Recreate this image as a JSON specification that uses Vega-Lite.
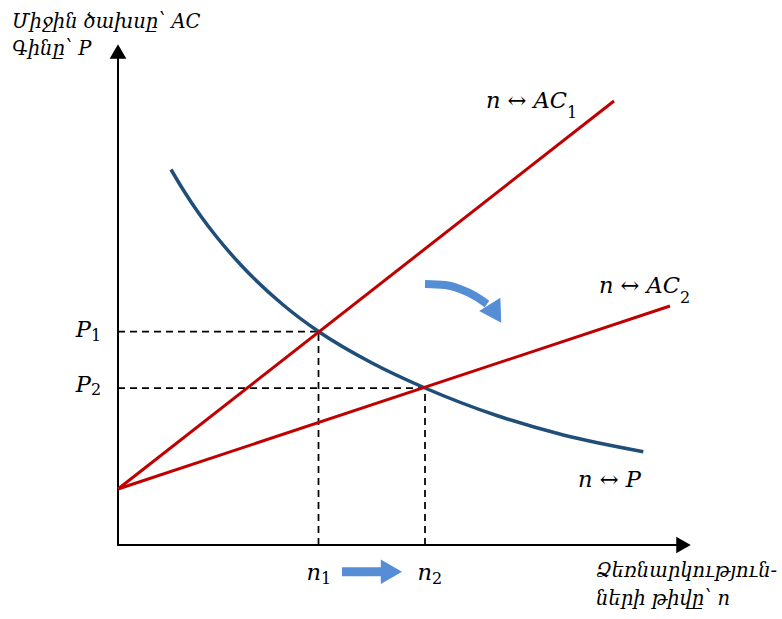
{
  "$schema": "https://vega.github.io/schema/vega-lite/v6.json",
  "width": 782,
  "height": 619,
  "autosize": {"type": "fit", "contains": "padding"},
  "padding": 0,
  "background": "white",
  "config": {"view": {"stroke": null}},
  "datasets": {
    "axes": [
      {"x": 0, "y": -0.1, "x2": 0, "y2": 49.2},
      {"x": -0.1, "y": 0, "x2": 56.5, "y2": 0}
    ],
    "yarrow": [{"x": 0, "y": 49.35}],
    "xarrow": [{"x": 56.55, "y": 0}],
    "dashes": [
      {"x": 0, "y": 21.35, "x2": 20.05, "y2": 21.35},
      {"x": 20.05, "y": 0, "x2": 20.05, "y2": 21.35},
      {"x": 0, "y": 15.7, "x2": 30.7, "y2": 15.7},
      {"x": 30.7, "y": 0, "x2": 30.7, "y2": 15.7}
    ],
    "redlines": [
      {"series": "AC1", "n": 0, "v": 5.6},
      {"series": "AC1", "n": 49.6, "v": 44.4},
      {"series": "AC2", "n": 0, "v": 5.6},
      {"series": "AC2", "n": 55.2, "v": 23.9}
    ],
    "demand": [
      {"n": 5.3, "v": 37.55},
      {"n": 6.53, "v": 35.5},
      {"n": 8.2, "v": 33.0},
      {"n": 9.87, "v": 30.8},
      {"n": 12.2, "v": 28.1},
      {"n": 16.53, "v": 24.0},
      {"n": 20.05, "v": 21.35},
      {"n": 25.4, "v": 18.2},
      {"n": 30.7, "v": 15.7},
      {"n": 37.87, "v": 12.95},
      {"n": 44.53, "v": 11.0},
      {"n": 52.53, "v": 9.33}
    ],
    "curvedShaft": [
      {"n": 30.7, "v": 26.1},
      {"n": 32.7, "v": 26.0},
      {"n": 34.2, "v": 25.6},
      {"n": 35.7, "v": 24.9},
      {"n": 36.9, "v": 24.1}
    ],
    "curvedHead": [{"n": 37.75, "v": 23.15}],
    "straightShaft": [{"x": 22.4, "y": -2.67, "x2": 26.5, "y2": -2.67}],
    "straightHead": [{"n": 27.34, "v": -2.67}],
    "mainLabels": [
      {"text": "n ↔ AC", "x": 44.9, "y": 43.7},
      {"text": "n ↔ AC", "x": 56.2, "y": 25.17},
      {"text": "P", "x": -2.7, "y": 20.8},
      {"text": "P", "x": -2.7, "y": 15.33},
      {"text": "n", "x": 20.3, "y": -3.5},
      {"text": "n", "x": 31.4, "y": -3.5}
    ],
    "subLabels": [
      {"text": "1", "x": 44.9, "y": 42.75},
      {"text": "2", "x": 56.2, "y": 24.25},
      {"text": "1", "x": -2.7, "y": 20.4},
      {"text": "2", "x": -2.7, "y": 15.0},
      {"text": "1", "x": 20.3, "y": -3.9},
      {"text": "2", "x": 31.4, "y": -3.9}
    ],
    "leftLabels": [
      {"text": "n ↔ P", "x": 46.0, "y": 5.83}
    ],
    "axisTitles": [
      {"text": "Միջին ծախսը՝ AC", "x": -10.6, "y": 51.75},
      {"text": "Գինը՝ P", "x": -10.6, "y": 49.0},
      {"text": "Ձեռնարկություն-", "x": 47.8, "y": -3.17},
      {"text": "ների թիվը՝ n", "x": 47.8, "y": -6.0}
    ]
  },
  "layer": [
    {
      "data": {"name": "dashes"},
      "mark": {"type": "rule", "color": "black", "strokeWidth": 1.75, "strokeDash": [7, 5]},
      "encoding": {
        "x": {"field": "x", "type": "quantitative", "scale": {"domain": [-11.8, 66.4], "nice": false, "zero": false}, "axis": null},
        "y": {"field": "y", "type": "quantitative", "scale": {"domain": [-7.4, 54.5], "nice": false, "zero": false}, "axis": null},
        "x2": {"field": "x2"},
        "y2": {"field": "y2"}
      }
    },
    {
      "data": {"name": "axes"},
      "mark": {"type": "rule", "color": "black", "strokeWidth": 2},
      "encoding": {
        "x": {"field": "x", "type": "quantitative", "scale": {"domain": [-11.8, 66.4], "nice": false, "zero": false}, "axis": null},
        "y": {"field": "y", "type": "quantitative", "scale": {"domain": [-7.4, 54.5], "nice": false, "zero": false}, "axis": null},
        "x2": {"field": "x2"},
        "y2": {"field": "y2"}
      }
    },
    {
      "data": {"name": "yarrow"},
      "mark": {"type": "point", "shape": "triangle-up", "filled": true, "color": "black", "size": 280, "opacity": 1},
      "encoding": {
        "x": {"field": "x", "type": "quantitative", "scale": {"domain": [-11.8, 66.4], "nice": false, "zero": false}, "axis": null},
        "y": {"field": "y", "type": "quantitative", "scale": {"domain": [-7.4, 54.5], "nice": false, "zero": false}, "axis": null}
      }
    },
    {
      "data": {"name": "xarrow"},
      "mark": {"type": "point", "shape": "triangle-right", "filled": true, "color": "black", "size": 280, "opacity": 1},
      "encoding": {
        "x": {"field": "x", "type": "quantitative", "scale": {"domain": [-11.8, 66.4], "nice": false, "zero": false}, "axis": null},
        "y": {"field": "y", "type": "quantitative", "scale": {"domain": [-7.4, 54.5], "nice": false, "zero": false}, "axis": null}
      }
    },
    {
      "data": {"name": "demand"},
      "mark": {"type": "line", "color": "#1F4E79", "strokeWidth": 3.5, "interpolate": "monotone"},
      "encoding": {
        "x": {"field": "n", "type": "quantitative", "scale": {"domain": [-11.8, 66.4], "nice": false, "zero": false}, "axis": null},
        "y": {"field": "v", "type": "quantitative", "scale": {"domain": [-7.4, 54.5], "nice": false, "zero": false}, "axis": null}
      }
    },
    {
      "data": {"name": "redlines"},
      "mark": {"type": "line", "color": "#C00000", "strokeWidth": 3},
      "encoding": {
        "x": {"field": "n", "type": "quantitative", "scale": {"domain": [-11.8, 66.4], "nice": false, "zero": false}, "axis": null},
        "y": {"field": "v", "type": "quantitative", "scale": {"domain": [-7.4, 54.5], "nice": false, "zero": false}, "axis": null},
        "detail": {"field": "series"}
      }
    },
    {
      "data": {"name": "curvedShaft"},
      "mark": {"type": "line", "color": "#558ED5", "strokeWidth": 8, "interpolate": "monotone", "strokeCap": "butt"},
      "encoding": {
        "x": {"field": "n", "type": "quantitative", "scale": {"domain": [-11.8, 66.4], "nice": false, "zero": false}, "axis": null},
        "y": {"field": "v", "type": "quantitative", "scale": {"domain": [-7.4, 54.5], "nice": false, "zero": false}, "axis": null}
      }
    },
    {
      "data": {"name": "curvedHead"},
      "mark": {"type": "point", "shape": "triangle-right", "filled": true, "color": "#558ED5", "size": 625, "angle": 58, "opacity": 1},
      "encoding": {
        "x": {"field": "n", "type": "quantitative", "scale": {"domain": [-11.8, 66.4], "nice": false, "zero": false}, "axis": null},
        "y": {"field": "v", "type": "quantitative", "scale": {"domain": [-7.4, 54.5], "nice": false, "zero": false}, "axis": null}
      }
    },
    {
      "data": {"name": "straightShaft"},
      "mark": {"type": "rule", "color": "#558ED5", "strokeWidth": 9},
      "encoding": {
        "x": {"field": "x", "type": "quantitative", "scale": {"domain": [-11.8, 66.4], "nice": false, "zero": false}, "axis": null},
        "y": {"field": "y", "type": "quantitative", "scale": {"domain": [-7.4, 54.5], "nice": false, "zero": false}, "axis": null},
        "x2": {"field": "x2"},
        "y2": {"field": "y2"}
      }
    },
    {
      "data": {"name": "straightHead"},
      "mark": {"type": "point", "shape": "triangle-right", "filled": true, "color": "#558ED5", "size": 600, "opacity": 1},
      "encoding": {
        "x": {"field": "n", "type": "quantitative", "scale": {"domain": [-11.8, 66.4], "nice": false, "zero": false}, "axis": null},
        "y": {"field": "v", "type": "quantitative", "scale": {"domain": [-7.4, 54.5], "nice": false, "zero": false}, "axis": null}
      }
    },
    {
      "data": {"name": "mainLabels"},
      "mark": {"type": "text", "font": "DejaVu Serif", "fontStyle": "italic", "fontSize": 22.5, "align": "right", "baseline": "alphabetic", "color": "black"},
      "encoding": {
        "x": {"field": "x", "type": "quantitative", "scale": {"domain": [-11.8, 66.4], "nice": false, "zero": false}, "axis": null},
        "y": {"field": "y", "type": "quantitative", "scale": {"domain": [-7.4, 54.5], "nice": false, "zero": false}, "axis": null},
        "text": {"field": "text"}
      }
    },
    {
      "data": {"name": "subLabels"},
      "mark": {"type": "text", "font": "DejaVu Serif", "fontSize": 16, "align": "left", "baseline": "alphabetic", "color": "black"},
      "encoding": {
        "x": {"field": "x", "type": "quantitative", "scale": {"domain": [-11.8, 66.4], "nice": false, "zero": false}, "axis": null},
        "y": {"field": "y", "type": "quantitative", "scale": {"domain": [-7.4, 54.5], "nice": false, "zero": false}, "axis": null},
        "text": {"field": "text"}
      }
    },
    {
      "data": {"name": "leftLabels"},
      "mark": {"type": "text", "font": "DejaVu Serif", "fontStyle": "italic", "fontSize": 22.5, "align": "left", "baseline": "alphabetic", "color": "black"},
      "encoding": {
        "x": {"field": "x", "type": "quantitative", "scale": {"domain": [-11.8, 66.4], "nice": false, "zero": false}, "axis": null},
        "y": {"field": "y", "type": "quantitative", "scale": {"domain": [-7.4, 54.5], "nice": false, "zero": false}, "axis": null},
        "text": {"field": "text"}
      }
    },
    {
      "data": {"name": "axisTitles"},
      "mark": {"type": "text", "font": "DejaVu Serif", "fontStyle": "italic", "fontSize": 19.5, "align": "left", "baseline": "alphabetic", "color": "black"},
      "encoding": {
        "x": {"field": "x", "type": "quantitative", "scale": {"domain": [-11.8, 66.4], "nice": false, "zero": false}, "axis": null},
        "y": {"field": "y", "type": "quantitative", "scale": {"domain": [-7.4, 54.5], "nice": false, "zero": false}, "axis": null},
        "text": {"field": "text"}
      }
    }
  ]
}
